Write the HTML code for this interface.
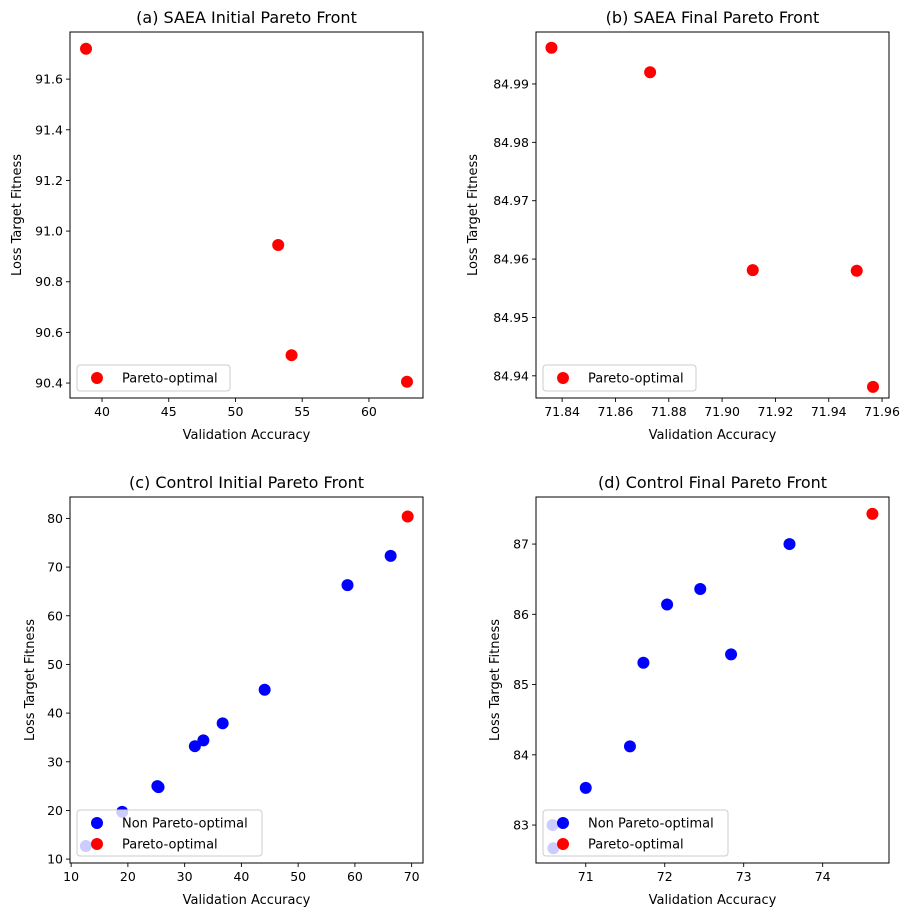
<!DOCTYPE html>
<html><head><meta charset="utf-8"><style>
body{margin:0;background:#fff;font-family:"Liberation Sans","DejaVu Sans",sans-serif}
svg text{font-family:"DejaVu Sans","Liberation Sans",sans-serif;fill:#000}
</style></head><body>
<svg id="fig" width="911" height="917" viewBox="0 0 911 917" xmlns="http://www.w3.org/2000/svg"></svg>
<script>
// (a) SAEA initial
const aX = [38.8, 53.2, 54.2, 62.85];
const aY = [91.72, 90.945, 90.51, 90.405];
const aXTicks = [40, 45, 50, 55, 60];
const aYTicks = [90.4, 90.6, 90.8, 91.0, 91.2, 91.4, 91.6];
// (b) SAEA final
const bX = [71.836, 71.873, 71.9115, 71.9505, 71.9566];
const bY = [84.9962, 84.9920, 84.9581, 84.9580, 84.9381];
const bXTicks = [71.84, 71.86, 71.88, 71.90, 71.92, 71.94, 71.96];
const bYTicks = [84.94, 84.95, 84.96, 84.97, 84.98, 84.99];
// (c) Control initial
const cNonX = [66.3, 58.7, 44.1, 36.7, 33.3, 31.8, 25.2, 25.4, 19.0, 12.6];
const cNonY = [72.3, 66.3, 44.8, 37.9, 34.4, 33.2, 25.0, 24.8, 19.7, 12.7];
const cParX = [69.3];
const cParY = [80.4];
const cXTicks = [10, 20, 30, 40, 50, 60, 70];
const cYTicks = [10, 20, 30, 40, 50, 60, 70, 80];
// (d) Control final
const dNonX = [73.58, 72.45, 72.03, 71.73, 72.84, 71.56, 71.0, 70.58, 70.59];
const dNonY = [87.0, 86.36, 86.14, 85.31, 85.43, 84.12, 83.53, 83.0, 82.67];
const dParX = [74.63];
const dParY = [87.43];
const dXTicks = [71, 72, 73, 74];
const dYTicks = [83, 84, 85, 86, 87];

const NS = "http://www.w3.org/2000/svg";
const svg = document.getElementById('fig');
function mk(tag, attrs, parent) {
  const e = document.createElementNS(NS, tag);
  for (const k in attrs) e.setAttribute(k, attrs[k]);
  (parent || svg).appendChild(e);
  return e;
}
function fmt(v, dec) { return v.toFixed(dec); }

function panel(o) {
  const g = mk('g', {});
  
  
  const L = o.left, T = o.top, W = 353, H = 366;
  const sx = v => L + (v - o.xlim[0]) / (o.xlim[1] - o.xlim[0]) * W;
  const sy = v => T + H - (v - o.ylim[0]) / (o.ylim[1] - o.ylim[0]) * H;
  const t = mk('text', {x: L + W / 2, y: T - 9, 'text-anchor': 'middle', 'font-size': 16}, g);
  t.textContent = o.title;
  
  
  o.xticks.forEach(v => {
    const x = sx(v);
    mk('line', {x1: x, x2: x, y1: T + H, y2: T + H + 4, stroke: '#000', 'stroke-width': 0.9}, g);
    const tl = mk('text', {x: x, y: T + H + 18, 'text-anchor': 'middle', 'font-size': 12.5}, g);
    tl.textContent = fmt(v, o.xdec);
    
    
  });
  o.yticks.forEach(v => {
    const y = sy(v);
    mk('line', {x1: L - 4, x2: L, y1: y, y2: y, stroke: '#000', 'stroke-width': 0.9}, g);
    const tl = mk('text', {x: L - 7, y: y + 4.5, 'text-anchor': 'end', 'font-size': 12.5}, g);
    tl.textContent = fmt(v, o.ydec);
    
    
  });
  const xl = mk('text', {x: L + W / 2, y: T + H + 41, 'text-anchor': 'middle', 'font-size': 13}, g);
  xl.textContent = 'Validation Accuracy';
  
  
  const yl = mk('text', {x: 0, y: 0, 'text-anchor': 'middle', 'font-size': 13,
    transform: `translate(${o.ylabX},${T + H / 2}) rotate(-90)`}, g);
  yl.textContent = 'Loss Target Fitness';
  
  
  (o.nonX || []).forEach((v, i) => {
    const c = mk('circle', {cx: sx(v), cy: sy(o.nonY[i]), r: 6, fill: '#0000ff'}, g);
    
    
  });
  o.parX.forEach((v, i) => {
    const c = mk('circle', {cx: sx(v), cy: sy(o.parY[i]), r: 6, fill: '#ff0000'}, g);
    
    
  });
  mk('rect', {x: L, y: T, width: W, height: H, fill: 'none', stroke: '#000', 'stroke-width': 1}, g);
  const entries = o.nonX ? [['Non Pareto-optimal', '#0000ff'], ['Pareto-optimal', '#ff0000']] : [['Pareto-optimal', '#ff0000']];
  const lw = o.nonX ? 185 : 153, lh = entries.length * 20 + 6;
  const lx = L + 7, ly = T + H - 7 - lh;
  const lg = mk('g', {}, g);
  
  
  mk('rect', {x: lx, y: ly, width: lw, height: lh, rx: 3, fill: '#fff', 'fill-opacity': 0.8, stroke: '#ccc', 'stroke-width': 1}, lg);
  entries.forEach((e, i) => {
    const yy = ly + 13 + i * 21;
    const m = mk('circle', {cx: lx + 20, cy: yy, r: 6, fill: e[1]}, lg);
    
    
    const tx = mk('text', {x: lx + 45, y: yy + 4.5, 'font-size': 13}, lg);
    tx.textContent = e[0];
    
    
  });
}

panel({name: 'panel-a-saea-initial', title: '(a) SAEA Initial Pareto Front', left: 70, top: 32,
  xlim: [37.6, 64.05], ylim: [90.341, 91.786], xticks: aXTicks, yticks: aYTicks, xdec: 0, ydec: 1,
  parX: aX, parY: aY, ylabX: 21});
panel({name: 'panel-b-saea-final', title: '(b) SAEA Final Pareto Front', left: 536, top: 32,
  xlim: [71.8302, 71.9626], ylim: [84.9362, 84.9989], xticks: bXTicks, yticks: bYTicks, xdec: 2, ydec: 2,
  parX: bX, parY: bY, ylabX: 477});
panel({name: 'panel-c-control-initial', title: '(c) Control Initial Pareto Front', left: 70, top: 497,
  xlim: [9.8, 72.0], ylim: [9.2, 84.4], xticks: cXTicks, yticks: cYTicks, xdec: 0, ydec: 0,
  nonX: cNonX, nonY: cNonY, parX: cParX, parY: cParY, ylabX: 34});
panel({name: 'panel-d-control-final', title: '(d) Control Final Pareto Front', left: 536, top: 497,
  xlim: [70.37, 74.84], ylim: [82.46, 87.67], xticks: dXTicks, yticks: dYTicks, xdec: 0, ydec: 0,
  nonX: dNonX, nonY: dNonY, parX: dParX, parY: dParY, ylabX: 499});
</script>
</body></html>
